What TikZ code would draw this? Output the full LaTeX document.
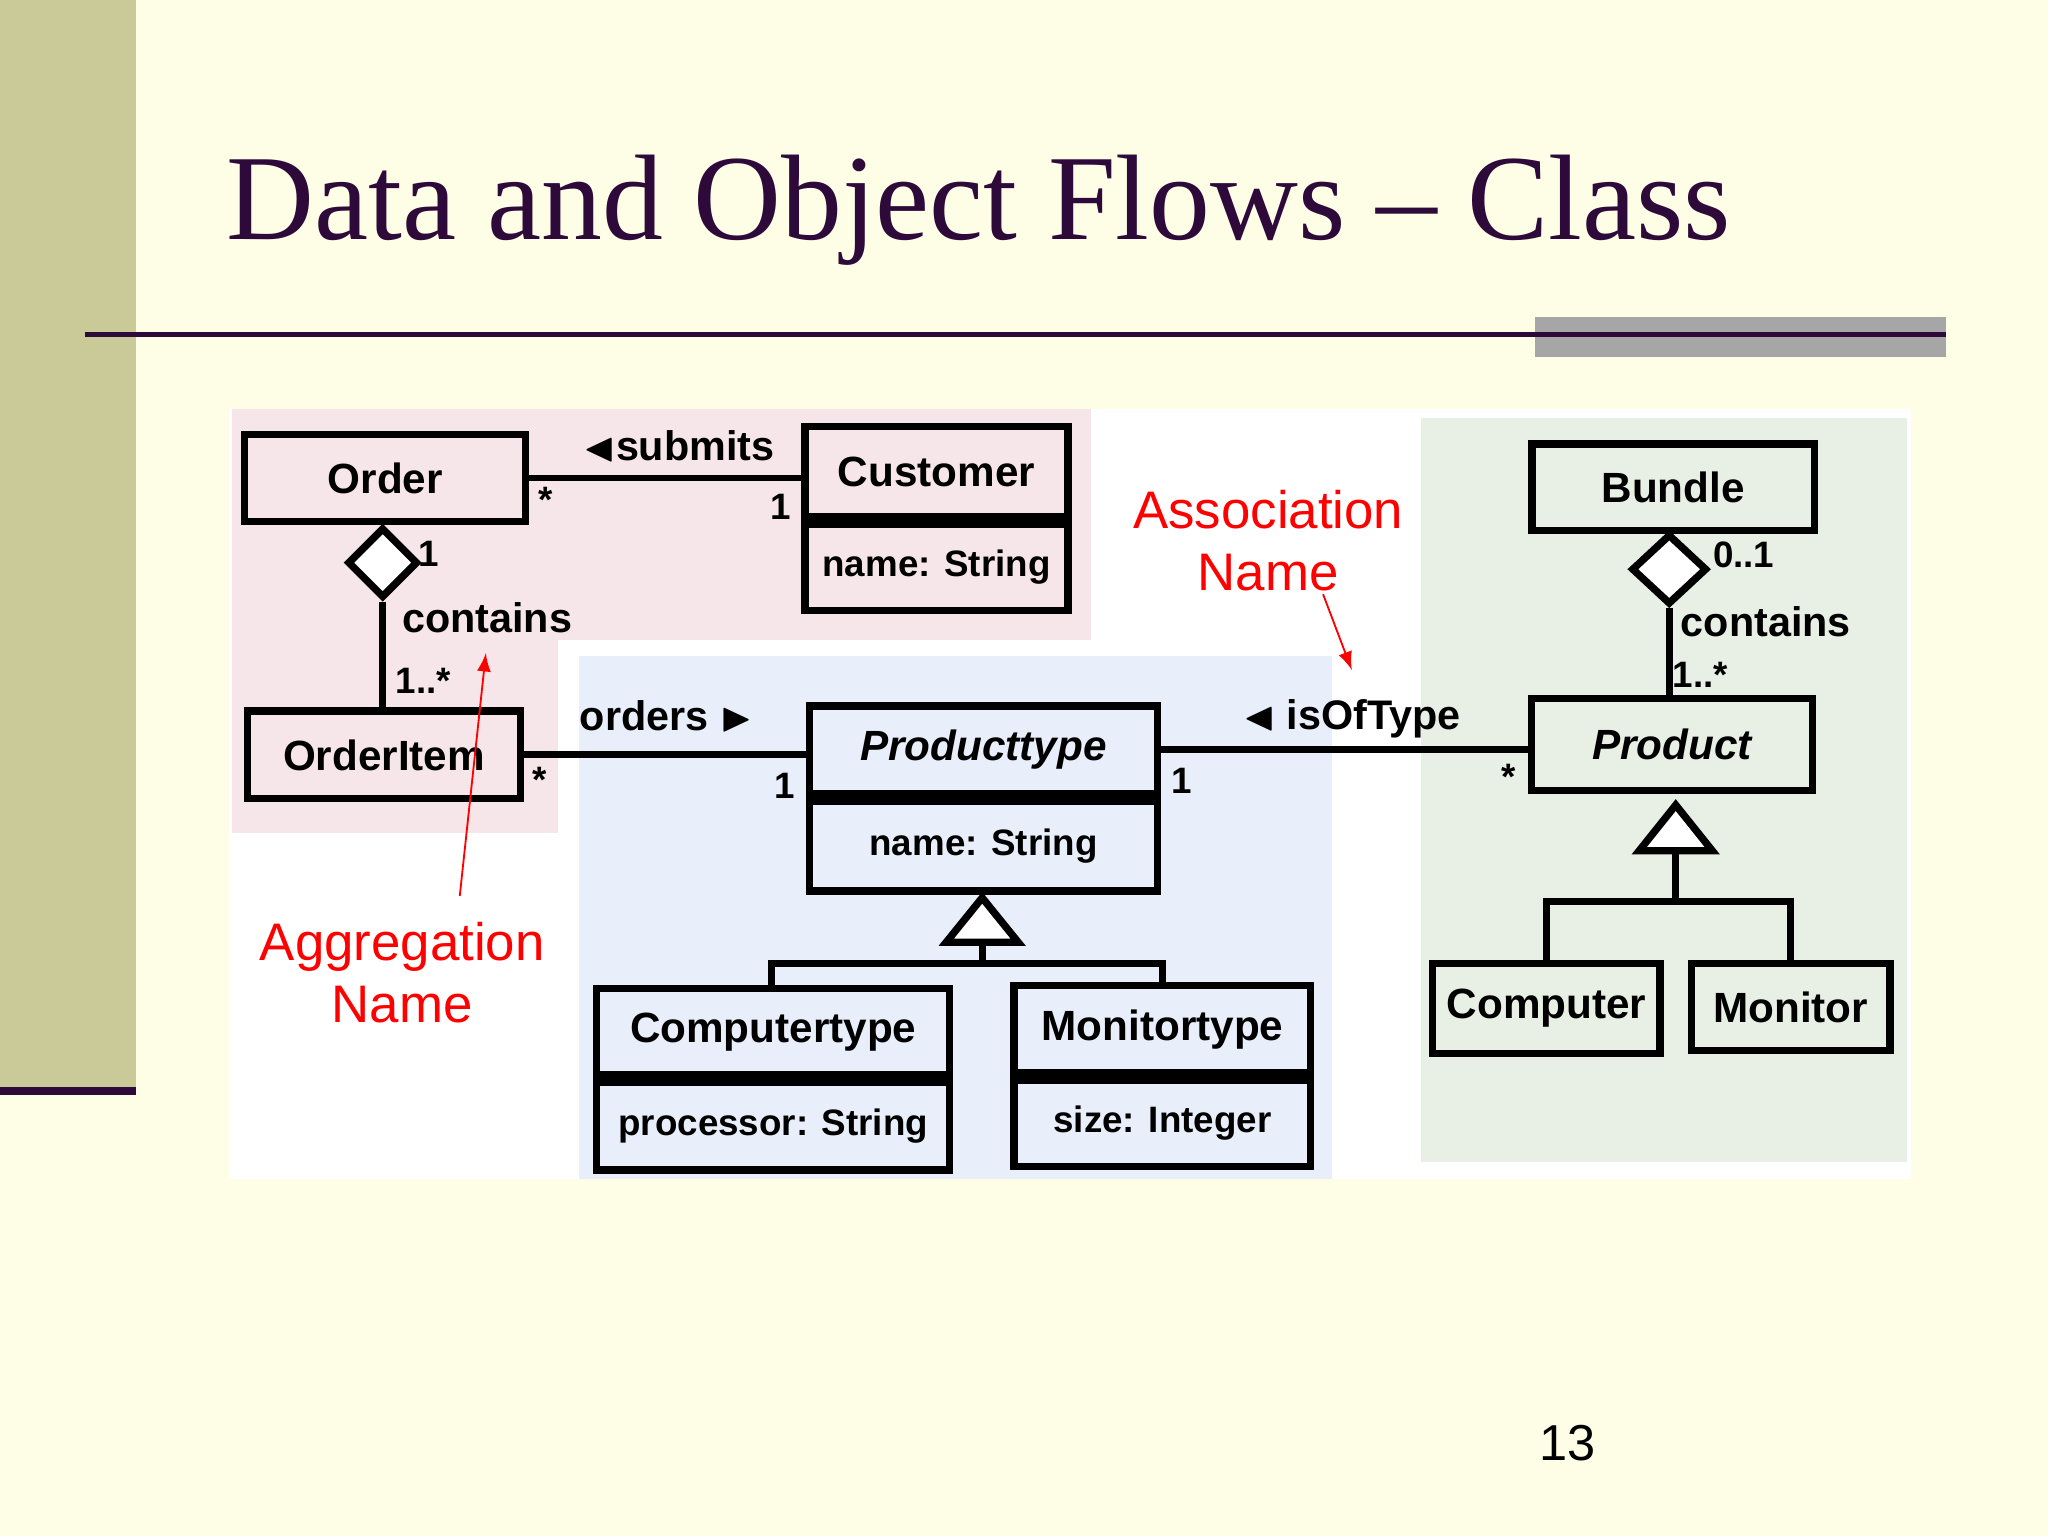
\documentclass[tikz,border=0pt]{standalone}
\usepackage{amssymb}
\usepackage{fontspec}
\setmainfont{Liberation Sans}
\newfontfamily\titlefont{Liberation Serif}
\usetikzlibrary{shapes.geometric}
\definecolor{slidebg}{HTML}{FEFDE6}
\definecolor{bandc}{HTML}{CACA98}
\definecolor{titlec}{HTML}{2E0A3A}
\definecolor{pinkc}{HTML}{F6E6EA}
\definecolor{bluec}{HTML}{E8EEFA}
\definecolor{greenc}{HTML}{E8F0E6}
\tikzset{
  cls/.style={draw, line width=1.6pt, fill=none, inner sep=0pt, font=\bfseries\fontsize{9.2}{11}\selectfont},
  attr/.style={draw, line width=1.6pt, inner sep=0pt, font=\bfseries\fontsize{8}{10}\selectfont},
  lbl/.style={font=\bfseries\fontsize{9}{11}\selectfont, inner sep=0pt},
  mult/.style={font=\bfseries\fontsize{8}{10}\selectfont, inner sep=0pt},
  note/.style={text=red, font=\fontsize{11.5}{13.5}\selectfont, align=center, inner sep=0pt},
  conn/.style={line width=1.5pt},
}
\begin{document}
\begin{tikzpicture}[x=0.01cm, y=-0.01cm]
\useasboundingbox (0,0) rectangle (1568,1176);
\fill[slidebg] (0,0) rectangle (1568,1176);
\fill[bandc] (0,0) rectangle (104,835);
\fill[titlec] (0,832) rectangle (104,838);
\node[anchor=base west, text=titlec, font=\titlefont\fontsize{26.5}{32}\selectfont, inner sep=0pt] (title) at (173,183) {Data and Object Flows \textendash{} Class};
\fill[gray!70] (1175,243) rectangle (1490,273);
\draw[titlec, line width=1pt] (65,256) -- (1490,256);
\node[font=\fontsize{11}{13}\selectfont] (page) at (1200,1105) {13};
% diagram areas
\fill[white] (175,313) rectangle (1463,903);
\fill[pinkc] (178,313) rectangle (835,490);
\fill[pinkc] (178,313) rectangle (427,638);
\fill[bluec] (443,502) rectangle (1020,903);
\fill[greenc] (1088,320) rectangle (1460,890);
% classes
\node[cls, minimum width=2.15cm, minimum height=0.67cm] (order) at (295,366) {Order};
\node[cls, minimum width=2.01cm, minimum height=0.69cm] (customer) at (717,361) {Customer};
\node[attr, anchor=north, minimum width=2.01cm, minimum height=0.66cm] (customerA) at (customer.south) {name: String};
\node[cls, minimum width=2.09cm, minimum height=0.67cm] (orderitem) at (294,578) {OrderItem};
\node[cls, font=\bfseries\itshape\fontsize{9.2}{11}\selectfont, minimum width=2.66cm, minimum height=0.67cm] (ptype) at (753,574) {Producttype};
\node[attr, anchor=north, minimum width=2.66cm, minimum height=0.69cm] (ptypeA) at (ptype.south) {name: String};
\node[cls, minimum width=2.70cm, minimum height=0.66cm] (ctype) at (592,790) {Computertype};
\node[attr, anchor=north, minimum width=2.70cm, minimum height=0.67cm] (ctypeA) at (ctype.south) {processor: String};
\node[cls, minimum width=2.27cm, minimum height=0.67cm] (mtype) at (890,788) {Monitortype};
\node[attr, anchor=north, minimum width=2.27cm, minimum height=0.66cm] (mtypeA) at (mtype.south) {size: Integer};
\node[cls, minimum width=2.16cm, minimum height=0.66cm] (bundle) at (1281,373) {Bundle};
\node[cls, font=\bfseries\itshape\fontsize{9.2}{11}\selectfont, minimum width=2.15cm, minimum height=0.70cm] (product) at (1280,570) {Product};
\node[cls, minimum width=1.74cm, minimum height=0.69cm] (computer) at (1184,772) {Computer};
\node[cls, minimum width=1.52cm, minimum height=0.67cm] (monitor) at (1371,771) {Monitor};
% aggregation diamonds
\node[draw, diamond, line width=1.6pt, fill=white, minimum width=0.54cm, minimum height=0.54cm, inner sep=0pt, anchor=north] (dOrder) at (293,401) {};
\node[draw, diamond, line width=1.6pt, fill=white, minimum width=0.58cm, minimum height=0.54cm, inner sep=0pt, anchor=north] (dBundle) at (1278,406) {};
\draw[conn] (dOrder.south) -- (dOrder.south |- orderitem.north);
\draw[conn] (dBundle.south) -- (dBundle.south |- product.north);
% generalization
\node[draw, isosceles triangle, shape border rotate=90, isosceles triangle stretches, line width=1.6pt, fill=white, minimum width=0.55cm, minimum height=0.34cm, inner sep=0pt, anchor=apex] (tPtype) at (752,680) {};
\node[draw, isosceles triangle, shape border rotate=90, isosceles triangle stretches, line width=1.6pt, fill=white, minimum width=0.56cm, minimum height=0.35cm, inner sep=0pt, anchor=apex] (tProduct) at (1283,609) {};
\coordinate (gP) at (752,738);
\coordinate (gQ) at (1283,690);
\draw[conn] (tPtype.south) -- (gP);
\draw[conn] (ctype.north -| 591,0) |- (gP) -| (mtype.north);
\draw[conn] (tProduct.south) -- (gQ);
\draw[conn] (computer.north) |- (gQ) -| (monitor.north);
% associations
\draw[conn] (order.east) -- (order.east -| customer.west);
\draw[conn] (orderitem.east) -- (orderitem.east -| ptype.west);
\draw[conn] (ptype.east) -- (ptype.east -| product.west);
% labels
\node[lbl] (lsub) at (520,342) {$\blacktriangleleft$submits};
\node[mult] (m1) at (418,383) {*};
\node[mult] (m2) at (598,388) {1};
\node[lbl] (lord) at (510,548) {orders $\blacktriangleright$};
\node[mult] (m3) at (413,597) {*};
\node[mult] (m4) at (601,602) {1};
\node[lbl] (liso) at (1035,550) {$\blacktriangleleft$ isOfType};
\node[mult] (m5) at (905,598) {1};
\node[mult] (m6) at (1155,595) {*};
\node[mult] (m7) at (328,424) {1};
\node[lbl] (lc1) at (373,473) {contains};
\node[mult] (m8) at (324,521) {1..*};
\node[mult] (m9) at (1335,425) {0..1};
\node[lbl] (lc2) at (1352,476) {contains};
\node[mult] (m10) at (1302,517) {1..*};
% annotations
\node[note] (assoc) at (971,414) {Association\\Name};
\node[note] (aggr) at (308,745) {Aggregation\\Name};
\coordinate (assocTip) at (1035,513);
\coordinate (aggrTip) at (372,500);
\draw[red, -latex] (1013,455) -- (assocTip);
\draw[red, -latex] (352,686) -- (aggrTip);
\end{tikzpicture}
\end{document}
